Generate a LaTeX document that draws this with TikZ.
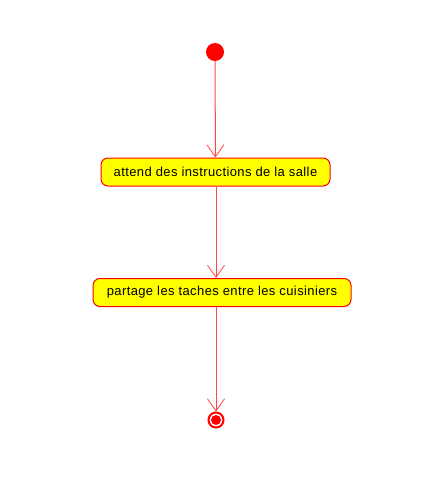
\documentclass[tikz,border=0pt]{standalone}
\usepackage{fontspec}
\setmainfont{Liberation Sans}[LetterSpace=3]
\usetikzlibrary{arrows.meta}
\definecolor{umlred}{RGB}{255,0,0}
\definecolor{umlline}{RGB}{255,70,70}
\definecolor{umlyellow}{RGB}{255,255,0}
\tikzset{
 action/.style={draw=umlred,fill=umlyellow,line width=1pt,rounded corners=7pt,minimum height=28pt,inner xsep=10pt,font=\fontsize{13}{15}\selectfont},
 flow/.style={draw=umlline,line width=1pt,-{Straight Barb[length=12pt,width=17pt,line width=0.8pt]}}
}
\begin{document}
\begin{tikzpicture}[x=1pt,y=-1pt]
\useasboundingbox (0,0) rectangle (427,500);

\node[circle,fill=umlred,inner sep=0pt,minimum size=18pt](start) at (215,52) {};
\node[action,minimum width=229pt](wait) at (215.5,172) {attend des instructions de la salle};
\node[action,minimum width=258pt](share) at (222,292.5) {partage les taches entre les cuisiniers};
\node[circle,draw=umlred,line width=2pt,fill=white,inner sep=0pt,minimum size=15pt](stop) at (216,420) {};
\node[circle,fill=umlred,inner sep=0pt,minimum size=10pt](stopin) at (stop) {};

\draw[flow] (start) -- (wait);
\draw[flow] (wait.south -| stop) -- (share.north -| stop);
\draw[flow] (share.south -| stop) -- (stop);
\end{tikzpicture}
\end{document}
